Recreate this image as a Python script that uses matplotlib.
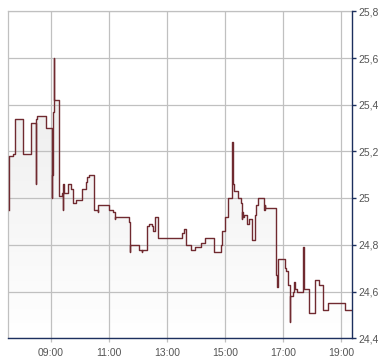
import matplotlib
matplotlib.use("Agg")
import matplotlib.pyplot as plt
import numpy as np

# ---- data (step series; repeated times make the vertical spikes) ----
times = ["07:33", "07:33", "07:42", "07:46", "08:03", "08:18", "08:28", "08:28", "08:32", "08:50",
         "09:01", "09:01", "09:05", "09:07", "09:07", "09:17", "09:23", "09:25", "09:25", "09:27",
         "09:35", "09:41", "09:46", "09:52", "10:05", "10:13", "10:15", "10:19", "10:29", "10:38",
         "10:38", "11:00", "11:08", "11:12", "11:12", "11:41", "11:43", "11:43", "12:02", "12:08",
         "12:08", "12:17", "12:19", "12:23", "12:28", "12:30", "12:34", "12:36", "12:42", "13:30",
         "13:34", "13:39", "13:50", "13:58", "14:10", "14:19", "14:38", "14:52", "14:54", "14:59",
         "15:06", "15:14", "15:16", "15:19", "15:26", "15:33", "15:35", "15:35", "15:38", "15:40",
         "15:45", "15:50", "15:55", "16:01", "16:04", "16:09", "16:21", "16:23", "16:23", "16:37",
         "16:45", "16:46", "16:47", "16:50", "17:03", "17:06", "17:09", "17:15", "17:15", "17:21",
         "17:23", "17:24", "17:28", "17:42", "17:43", "17:54", "18:05", "18:15", "18:22", "18:32",
         "19:08", "19:23"]
prices = [24.95, 25.18, 25.19, 25.34, 25.19, 25.32, 25.06, 25.34, 25.35, 25.30,
          25.00, 25.10, 25.37, 25.60, 25.42, 25.01, 25.02, 24.95, 25.06, 25.02,
          25.06, 25.04, 24.98, 24.99, 25.04, 25.07, 25.09, 25.10, 24.95, 24.94,
          24.97, 24.95, 24.94, 24.91, 24.92, 24.90, 24.77, 24.80, 24.78, 24.77,
          24.78, 24.78, 24.88, 24.89, 24.88, 24.86, 24.88, 24.92, 24.83, 24.85,
          24.87, 24.80, 24.78, 24.79, 24.81, 24.83, 24.77, 24.80, 24.86, 24.92,
          25.00, 25.24, 25.06, 25.03, 25.00, 24.98, 24.91, 24.94, 24.92, 24.93,
          24.89, 24.91, 24.82, 24.93, 24.97, 25.00, 24.95, 24.97, 24.96, 24.96,
          24.94, 24.67, 24.62, 24.74, 24.70, 24.69, 24.63, 24.47, 24.58, 24.60,
          24.64, 24.61, 24.60, 24.79, 24.61, 24.51, 24.65, 24.63, 24.52, 24.55,
          24.52, 24.52]

y_ticks = [24.4, 24.6, 24.8, 25.0, 25.2, 25.4, 25.6, 25.8]
y_tick_labels = ["24,4", "24,6", "24,8", "25", "25,2", "25,4", "25,6", "25,8"]
x_ticks = ["09:00", "11:00", "13:00", "15:00", "17:00", "19:00"]
x_range = ["07:31", "19:23"]


def to_h(s):
    h, m = s.split(":")
    return int(h) + int(m) / 60.0


t = np.array([to_h(s) for s in times])
v = np.array(prices)

plt.rcParams["font.family"] = ["Liberation Sans", "DejaVu Sans"]

fig = plt.figure(figsize=(3.9, 3.64), dpi=100)
ax = fig.add_axes([8 / 390, 1 - 338.3 / 364, (352.3 - 8) / 390, (338.3 - 11.3) / 364])

xmin, xmax = to_h(x_range[0]), to_h(x_range[1])
ymin, ymax = y_ticks[0], y_ticks[-1]
ax.set_xlim(xmin, xmax)
ax.set_ylim(ymin, ymax)

# gradient fill under the line
fill = ax.fill_between(t, v, ymin, step="post", facecolor="none", edgecolor="none")
grad = np.linspace(0, 1, 256).reshape(-1, 1)
top_c = np.array([0.91, 0.91, 0.91])
bot_c = np.array([1.0, 1.0, 1.0])
img = (top_c[None, None, :] * (1 - grad[:, :, None]) + bot_c[None, None, :] * grad[:, :, None])
im = ax.imshow(img, extent=[xmin, xmax, ymin, ymax], aspect="auto", origin="upper", zorder=1)
path = fill.get_paths()[0]
im.set_clip_path(path, ax.transData)

ax.plot(t, v, drawstyle="steps-post", color="#702a30", lw=1.0, zorder=3)

# grid
ax.set_xticks([to_h(s) for s in x_ticks])
ax.set_xticklabels(x_ticks)
ax.set_yticks(y_ticks)
ax.set_yticklabels(y_tick_labels)
ax.grid(True, color="#c0c0c0", lw=0.9, zorder=2)
ax.set_axisbelow(False)
for gl in ax.get_xgridlines() + ax.get_ygridlines():
    gl.set_zorder(2)

ax.yaxis.tick_right()
for side in ["left", "top"]:
    ax.spines[side].set_color("#c0c0c0")
    ax.spines[side].set_linewidth(0.9)
for side in ["right", "bottom"]:
    ax.spines[side].set_color("#1c2f5e")
    ax.spines[side].set_linewidth(1.0)
    ax.spines[side].set_zorder(4)

ax.tick_params(axis="y", which="both", right=True, left=False, length=3, width=1.0,
               color="#1c2f5e", labelcolor="#555555", labelsize=7.5, pad=1.5)
ax.tick_params(axis="x", which="both", length=3, width=0.9, color="#c0c0c0",
               labelcolor="#555555", labelsize=7.5, pad=4)

fig.savefig("out.png", dpi=100)
